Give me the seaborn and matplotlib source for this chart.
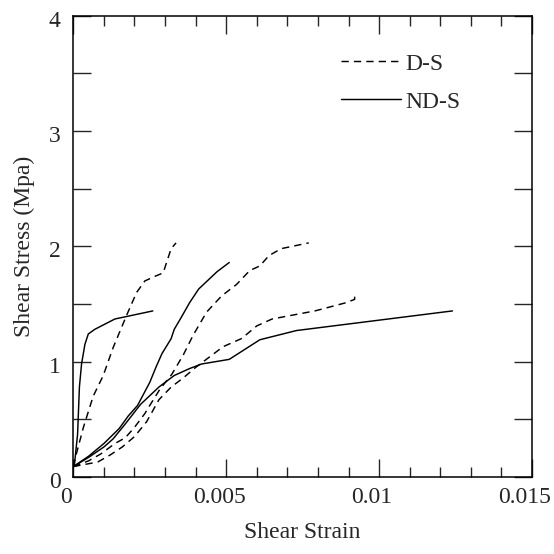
import matplotlib
matplotlib.use("Agg")
import matplotlib.pyplot as plt
import matplotlib.transforms as mtransforms
import seaborn as sns
from matplotlib.ticker import MultipleLocator
from matplotlib.lines import Line2D

sns.set_style("ticks")
plt.rcParams['font.family'] = ['Liberation Serif', 'DejaVu Serif']
plt.rcParams['mathtext.fontset'] = 'stix'

# tick labels
x_ticks = [0.0, 0.005, 0.01, 0.015]
x_labels = ['0', '0.005', '0.01', '0.015']
y_ticks = [0, 1, 2, 3, 4]
y_labels = ['0', '1', '2', '3', '4']

# ND-S specimens (solid)
nds1_x = [0.0, 0.00004, 0.00014, 0.0002, 0.00027, 0.00038, 0.00049, 0.0007, 0.00136, 0.0026]
nds1_y = [0.09, 0.115, 0.37, 0.78, 0.98, 1.15, 1.24, 1.28, 1.37, 1.44]

nds2_x = [0.0, 0.0005, 0.0010, 0.0015, 0.0018, 0.0021, 0.0025, 0.0027, 0.0029, 0.0032, 0.0033, 0.0035, 0.0038, 0.0041, 0.0047, 0.0051]
nds2_y = [0.09, 0.18, 0.29, 0.42, 0.53, 0.62, 0.82, 0.95, 1.07, 1.20, 1.28, 1.37, 1.51, 1.63, 1.78, 1.86]

nds3_x = [0.0, 0.0005, 0.0010, 0.0013, 0.0017, 0.0022, 0.0028, 0.0033, 0.0038, 0.0042, 0.0051, 0.0061, 0.0073, 0.0124]
nds3_y = [0.09, 0.17, 0.26, 0.33, 0.46, 0.63, 0.78, 0.88, 0.94, 0.98, 1.02, 1.19, 1.27, 1.44]

# D-S specimens (dashed)
ds1_x = [0.0, 0.0001, 0.00033, 0.00065, 0.00098, 0.0013, 0.00174, 0.00207, 0.00234, 0.00267, 0.00294, 0.00305, 0.0032, 0.00336]
ds1_y = [0.09, 0.2, 0.43, 0.70, 0.88, 1.12, 1.40, 1.60, 1.70, 1.74, 1.77, 1.86, 1.98, 2.03]

ds2_x = [0.0, 0.0005, 0.0009, 0.00136, 0.0017, 0.0020, 0.00234, 0.0025, 0.00283, 0.00322, 0.0036, 0.00392, 0.00436, 0.00485, 0.00534, 0.00577, 0.0061, 0.0064, 0.0068, 0.0077]
ds2_y = [0.09, 0.14, 0.2, 0.29, 0.34, 0.43, 0.55, 0.62, 0.76, 0.89, 1.06, 1.23, 1.43, 1.57, 1.67, 1.79, 1.83, 1.92, 1.98, 2.03]

ds3_x = [0.0, 0.0008, 0.0012, 0.0016, 0.0020, 0.0024, 0.0028, 0.0032, 0.0036, 0.0040, 0.0044, 0.0049, 0.0055, 0.0060, 0.0065, 0.0079, 0.0089, 0.0092, 0.0092]
ds3_y = [0.09, 0.13, 0.19, 0.26, 0.35, 0.48, 0.67, 0.78, 0.86, 0.95, 1.03, 1.13, 1.20, 1.31, 1.37, 1.44, 1.51, 1.54, 1.60]

solid = [(nds1_x, nds1_y), (nds2_x, nds2_y), (nds3_x, nds3_y)]
dashed = [(ds1_x, ds1_y), (ds2_x, ds2_y), (ds3_x, ds3_y)]

fig = plt.figure(figsize=(5.54, 5.54), dpi=100)
ax = fig.add_axes([0.1323, 0.139, 0.828, 0.8327])

dash = (0, (5, 3.5))
for xs, ys in solid:
    sns.lineplot(x=xs, y=ys, ax=ax, sort=False, estimator=None, color='black', lw=1.05)
for xs, ys in dashed:
    sns.lineplot(x=xs, y=ys, ax=ax, sort=False, estimator=None, color='black', lw=1.05,
                 linestyle=dash)

ax.set_xlim(0, 0.015)
ax.set_ylim(0, 4)
ax.set_xticks(x_ticks)
ax.set_xticklabels(x_labels)
ax.xaxis.set_minor_locator(MultipleLocator(0.001))
ax.set_yticks(y_ticks)
ax.set_yticklabels(y_labels)
ax.yaxis.set_minor_locator(MultipleLocator(0.5))
ax.tick_params(axis='x', which='major', direction='in', length=13, width=1, top=True, bottom=True, labelsize=17, pad=7)
ax.tick_params(axis='x', which='minor', direction='in', length=7, width=1, top=True, bottom=True)
ax.tick_params(axis='y', which='both', direction='in', length=13, width=1, left=True, right=True, labelsize=17, pad=9)
for s in ax.spines.values():
    s.set_linewidth(1.1)
    s.set_color('black')

ax.set_xlabel('Shear Strain', fontsize=17, labelpad=10)
ax.set_ylabel('Shear Stress (Mpa)', fontsize=17, labelpad=10)

# small offset of the text layer as in the reference
xoff = mtransforms.ScaledTranslation(-0.07, 0, fig.dpi_scale_trans)
for lab in ax.get_xticklabels():
    lab.set_transform(lab.get_transform() + xoff)
yoff = mtransforms.ScaledTranslation(0, -0.03, fig.dpi_scale_trans)
for lab in ax.get_yticklabels():
    lab.set_transform(lab.get_transform() + yoff)

handles = [Line2D([], [], color='black', lw=1.05, linestyle=dash),
           Line2D([], [], color='black', lw=1.05)]
ax.legend(handles, ['D-S', 'ND-S'], frameon=False, fontsize=17, handlelength=2.55,
          handletextpad=0.2, labelspacing=0.7, loc='upper left', bbox_to_anchor=(0.537, 0.965))

fig.savefig('out.png', dpi=100)
